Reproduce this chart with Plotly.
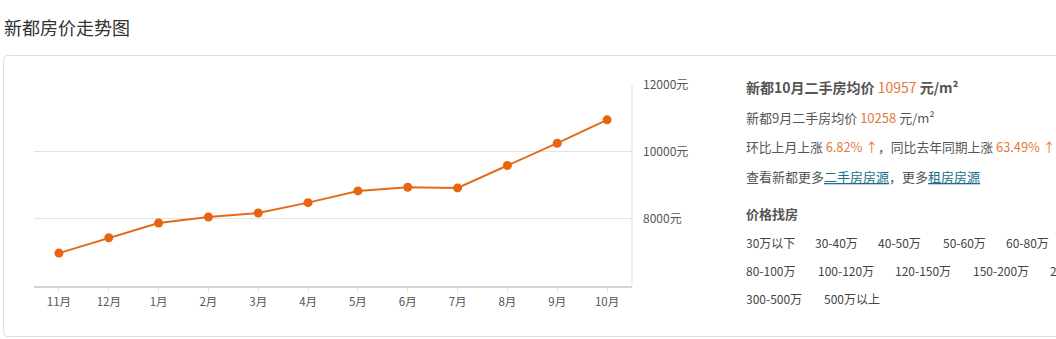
import plotly.graph_objects as go

months = ["11月", "12月", "1月", "2月", "3月", "4月", "5月", "6月", "7月", "8月", "9月", "10月"]
prices = [6970, 7430, 7870, 8050, 8170, 8480, 8830, 8940, 8920, 9590, 10258, 10957]
ytick_vals = [8000, 10000, 12000]
ytick_text = ["8000元", "10000元", "12000元"]

W, H = 1056, 339
FONT = "Noto Sans CJK SC, Microsoft YaHei, sans-serif"
ORANGE = "#e8650f"
TXT_ORANGE = "#e5793a"
LINK = "#1b6f8a"

def px(x):
    return x / W

def py(y):
    return 1 - y / H

fig = go.Figure()
fig.add_trace(go.Scatter(
    x=months, y=prices, mode="lines+markers",
    line=dict(color="#e36b1c", width=2),
    marker=dict(color=ORANGE, size=9),
    hoverinfo="x+y",
))

fig.update_layout(
    width=W, height=H, margin=dict(l=0, r=0, t=0, b=0, autoexpand=False),
    paper_bgcolor="white", plot_bgcolor="white",
    showlegend=False,
    font=dict(family=FONT, color="#555", size=11),
    xaxis=dict(
        domain=[px(34), px(632)], type="category",
        range=[-0.5, 11.5], showgrid=False, automargin=False,
        showline=True, linecolor="#d4d4d4", linewidth=2,
        ticks="outside", ticklen=5, tickcolor="#e3e3e3",
        tickfont=dict(size=11.5, color="#555"),
        anchor="y", fixedrange=True,
    ),
    yaxis=dict(
        domain=[py(285.5), py(85)], range=[6000, 12000],
        side="right", tickvals=ytick_vals, ticktext=ytick_text,
        showgrid=True, gridcolor="#e3e3e3", gridwidth=1, automargin=False,
        showline=False, zeroline=False,
        ticklabelstandoff=10,
        tickfont=dict(size=12, color="#555"),
        anchor="x", fixedrange=True,
    ),
)

shapes = []
# right boundary of the plot
shapes.append(dict(type="line", xref="paper", yref="paper",
                   x0=px(632), x1=px(632), y0=py(285.5), y1=py(85),
                   line=dict(color="#e0e0e0", width=1)))
# panel border with rounded corners
x0, y0, x1, y1, r = 3.5, 55.5, 1062, 336.5, 5
path = (f"M {px(x0 + r)},{py(y0)} L {px(x1)},{py(y0)} L {px(x1)},{py(y1)} "
        f"L {px(x0 + r)},{py(y1)} Q {px(x0)},{py(y1)} {px(x0)},{py(y1 - r)} "
        f"L {px(x0)},{py(y0 + r)} Q {px(x0)},{py(y0)} {px(x0 + r)},{py(y0)} Z")
shapes.append(dict(type="path", xref="paper", yref="paper", path=path,
                   line=dict(color="#dcdcdc", width=1), layer="below"))
fig.update_layout(shapes=shapes)

ann = []

def text(x, y, s, size=13, color="#555", anchor="left"):
    ann.append(dict(x=px(x), y=py(y), xref="paper", yref="paper", text=s,
                    showarrow=False, xanchor=anchor, yanchor="middle",
                    font=dict(size=size, color=color, family=FONT)))

text(2, 27, "新都房价走势图", size=18, color="#333")

o = lambda s: f"<span style='color:{TXT_ORANGE}'>{s}</span>"
u = lambda s: f"<span style='color:{LINK};text-decoration:underline'>{s}</span>"

text(744, 87, f"<b>新都10月二手房均价</b> {o('10957')} <b>元/m²</b>", size=14, color="#555")
text(744, 117, f"新都9月二手房均价 {o('10258')} 元/m²", size=13)
text(744, 146, f"环比上月上涨 {o('6.82% ↑')}，同比去年同期上涨 {o('63.49% ↑')}", size=12.8)
text(744, 176, f"查看新都更多{u('二手房房源')}，更多{u('租房房源')}", size=13)
text(744, 213, "<b>价格找房</b>", size=13)

rows = [
    (242, [(744, "30万以下"), (813, "30-40万"), (876, "40-50万"), (941, "50-60万"), (1004, "60-80万")]),
    (270, [(744, "80-100万"), (816, "100-120万"), (893, "120-150万"), (971, "150-200万"), (1048, "200-300万")]),
    (298, [(744, "300-500万"), (822, "500万以上")]),
]
for y, items in rows:
    for x, s in items:
        text(x, y, s, size=12, color="#444")

fig.update_layout(annotations=ann)
fig.write_html("out.html")
